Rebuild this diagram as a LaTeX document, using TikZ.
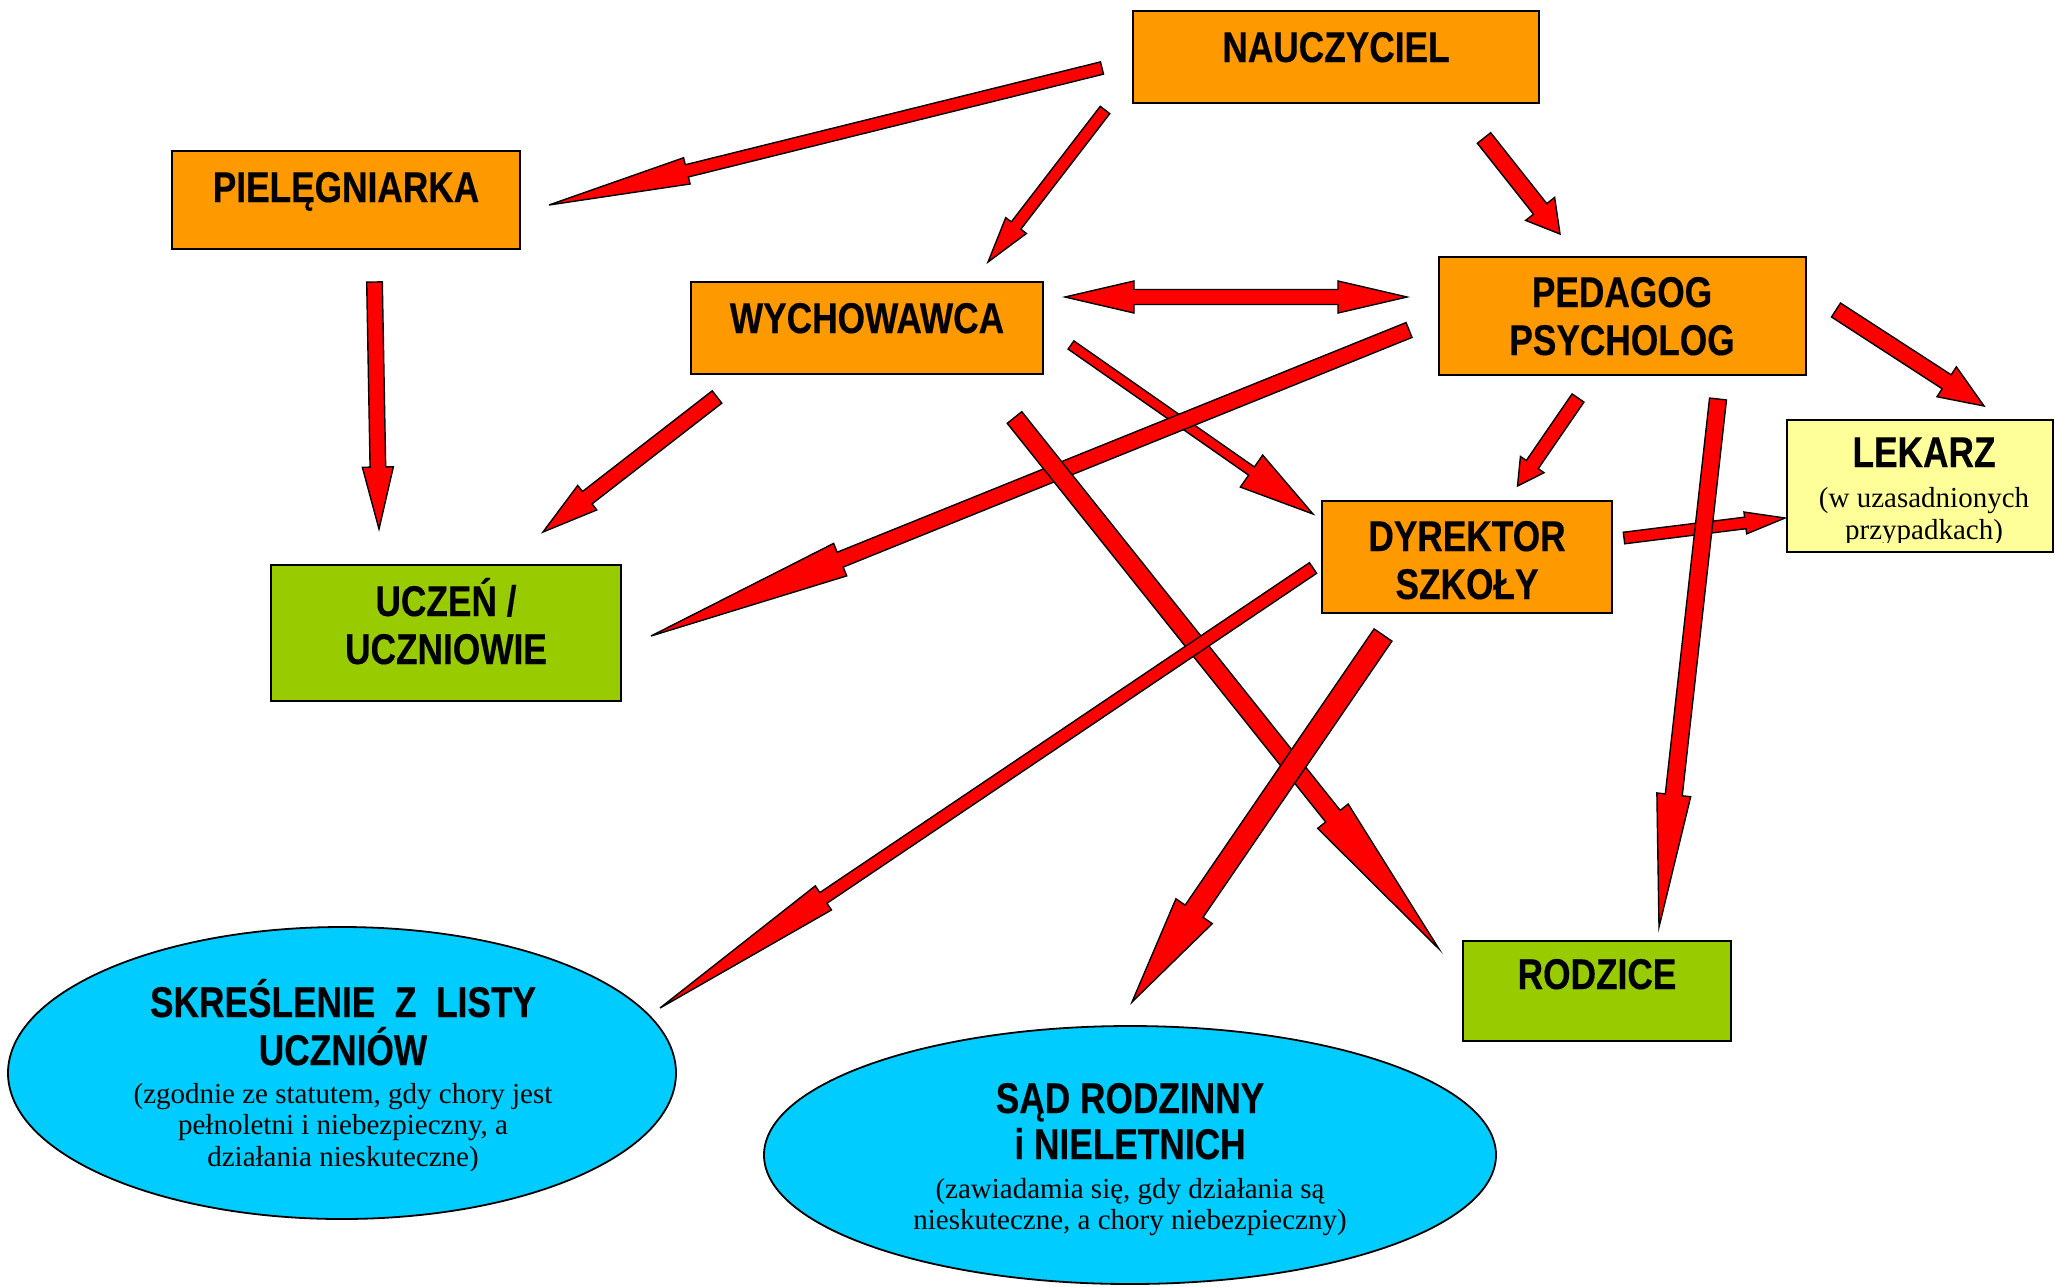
\documentclass[tikz,border=0pt]{standalone}
\usepackage{fontspec}
\setmainfont{Liberation Serif}
\newfontfamily\hdfont{Liberation Sans}[UprightFont={* Bold}, FakeStretch=0.82, FakeBold=0.3]
\usetikzlibrary{calc,shapes.geometric}
\definecolor{boxorange}{HTML}{FF9900}
\definecolor{boxgreen}{HTML}{99CC00}
\definecolor{boxyellow}{HTML}{FFFF99}
\definecolor{ovalblue}{HTML}{00CCFF}
\definecolor{arrred}{HTML}{FF0000}
\tikzset{
  box/.style={rectangle, draw=black, line width=1.8pt, inner sep=0pt, outer sep=0pt},
  oval/.style={ellipse, draw=black, line width=1.8pt, fill=ovalblue, inner sep=0pt, outer sep=0pt},
  ttl/.style={anchor=base, inner sep=0pt, font=\hdfont\fontsize{43}{48}\selectfont},
  sub/.style={anchor=base, inner sep=0pt, font=\fontsize{29}{33}\selectfont},
  blk/.style={fill=arrred, draw=black, line width=1.4pt, line join=miter},
}
% tail, tip, half shaft width, half head width, head length
\newcommand\blkarrow[5]{%
  \coordinate (hb) at ($(#2)!#5!(#1)$);
  \filldraw[blk] ($(#1)!#3!90:(#2)$) -- ($(hb)!#3!90:(#2)$) -- ($(hb)!#4!90:(#2)$) -- (#2)
    -- ($(hb)!#4!-90:(#2)$) -- ($(hb)!#3!-90:(#2)$) -- ($(#1)!#3!-90:(#2)$) -- cycle;
}
\newcommand\dblarr[5]{%
  \coordinate (hba) at ($(#1)!#5!(#2)$);
  \coordinate (hbb) at ($(#2)!#5!(#1)$);
  \filldraw[blk] (#1) -- ($(hba)!#4!90:(#2)$) -- ($(hba)!#3!90:(#2)$) -- ($(hbb)!#3!-90:(#1)$)
    -- ($(hbb)!#4!-90:(#1)$) -- (#2) -- ($(hbb)!#4!90:(#1)$) -- ($(hbb)!#3!90:(#1)$)
    -- ($(hba)!#3!-90:(#2)$) -- ($(hba)!#4!-90:(#2)$) -- cycle;
}
\begin{document}
\begin{tikzpicture}[x=1pt, y=-1pt]
\useasboundingbox (0,0) rectangle (2055,1286);
\fill[white] (0,0) rectangle (2055,1286);

% boxes
\node[box, fill=boxorange, minimum width=406pt, minimum height=92pt] (naucz) at (1336,57) {};
\node[box, fill=boxorange, minimum width=348pt, minimum height=98pt] (piel) at (346,200) {};
\node[box, fill=boxorange, minimum width=352pt, minimum height=92pt] (wych) at (867,328) {};
\node[box, fill=boxorange, minimum width=367pt, minimum height=118pt] (ped) at (1622.5,316) {};
\node[box, fill=boxyellow, minimum width=266pt, minimum height=132pt] (lek) at (1920,486) {};
\node[box, fill=boxorange, minimum width=290pt, minimum height=112pt] (dyr) at (1467,557) {};
\node[box, fill=boxgreen, minimum width=350pt, minimum height=136pt] (ucz) at (446,633) {};
\node[box, fill=boxgreen, minimum width=268pt, minimum height=100pt] (rodz) at (1597,991) {};
\node[oval, minimum width=668pt, minimum height=292pt] (skr) at (342,1073) {};
\node[oval, minimum width=732pt, minimum height=258pt] (sad) at (1130,1155) {};

% texts
\node[ttl] (tnaucz) at (1336,62) {NAUCZYCIEL};
\node[ttl] (tpiel) at (346,202) {PIELĘGNIARKA};
\node[ttl] (twych) at (867,333) {WYCHOWAWCA};
\node[ttl] (tped1) at (1622,307) {PEDAGOG};
\node[ttl] (tped2) at (1622,355) {PSYCHOLOG};
\node[ttl] (tlek) at (1924,467) {LEKARZ};
\node[sub] (slek1) at (1924,507) {(w uzasadnionych};
\begin{scope}
  \clip (1787,420) rectangle (2053,542);
  \node[sub] (slek2) at (1924,539) {przypadkach)};
\end{scope}
\node[ttl] (tdyr1) at (1467,551) {DYREKTOR};
\node[ttl] (tdyr2) at (1467,599) {SZKOŁY};
\node[ttl] (tucz1) at (446,616) {UCZEŃ /};
\node[ttl] (tucz2) at (446,664) {UCZNIOWIE};
\node[ttl] (trodz) at (1597,989) {RODZICE};
\node[ttl] (tskr1) at (343,1017) {SKREŚLENIE\ \ Z\ \ LISTY};
\node[ttl] (tskr2) at (343,1065) {UCZNIÓW};
\node[sub] (sskr1) at (343,1103) {(zgodnie ze statutem, gdy chory jest};
\node[sub] (sskr2) at (343,1134) {pełnoletni i niebezpieczny, a};
\begin{scope}
  \clip (0,900) rectangle (700,1170);
  \node[sub] (sskr3) at (343,1166) {działania nieskuteczne)};
\end{scope}
\node[ttl] (tsad1) at (1130,1113) {SĄD RODZINNY};
\node[ttl] (tsad2) at (1130,1159) {i NIELETNICH};
\node[sub] (ssad1) at (1130,1198) {(zawiadamia się, gdy działania są};
\node[sub] (ssad2) at (1130,1229) {nieskuteczne, a chory niebezpieczny)};

% arrow end points
\coordinate (a1s) at (1102,68);   \coordinate (a1e) at (549,205);
\coordinate (a2s) at (1105,110);  \coordinate (a2e) at (988,262);
\coordinate (a3s) at (1484,138);  \coordinate (a3e) at (1560,234);
\coordinate (a4s) at (1065,297);  \coordinate (a4e) at (1407,297);
\coordinate (a5s) at (374.5,282); \coordinate (a5e) at (379,529);
\coordinate (a6s) at (717,397);   \coordinate (a6e) at (543,532);
\coordinate (a7s) at (1409,330);  \coordinate (a7e) at (651,636);
\coordinate (a8s) at (1071,345);  \coordinate (a8e) at (1313,514);
\coordinate (a9s) at (1014.5,417.5); \coordinate (a9e) at (1439,949);
\coordinate (a10s) at (1836,310); \coordinate (a10e) at (1984,406);
\coordinate (a11s) at (1578,398); \coordinate (a11e) at (1517.5,486);
\coordinate (a12s) at (1718,399); \coordinate (a12e) at (1659,927);
\coordinate (a13s) at (1624,538); \coordinate (a13e) at (1785,518);
\coordinate (a14s) at (1313,568); \coordinate (a14e) at (660,1008);
\coordinate (a15s) at (1383,635); \coordinate (a15e) at (1132,1002);

% arrows
\blkarrow{a1s}{a1e}{6.3pt}{13.5pt}{142pt}
\blkarrow{a2s}{a2e}{6pt}{13pt}{46pt}
\blkarrow{a3s}{a3e}{8.5pt}{18.5pt}{32pt}
\dblarr{a4s}{a4e}{7.5pt}{16pt}{69pt}
\blkarrow{a5s}{a5e}{7.8pt}{15.5pt}{62pt}
\blkarrow{a6s}{a6e}{7.8pt}{15.5pt}{56pt}
\blkarrow{a8s}{a8e}{5pt}{19.5pt}{75pt}
\blkarrow{a7s}{a7e}{8pt}{17.5pt}{204pt}
\blkarrow{a9s}{a9e}{9.3pt}{19.5pt}{170pt}
\blkarrow{a14s}{a14e}{6.4pt}{14.5pt}{197pt}
\blkarrow{a15s}{a15e}{10.8pt}{22pt}{110pt}
\blkarrow{a10s}{a10e}{8.3pt}{17.8pt}{44.5pt}
\blkarrow{a11s}{a11e}{7.2pt}{14.3pt}{26pt}
\blkarrow{a13s}{a13e}{5.8pt}{11pt}{40pt}
\blkarrow{a12s}{a12e}{8.5pt}{17pt}{133pt}
\end{tikzpicture}
\end{document}
